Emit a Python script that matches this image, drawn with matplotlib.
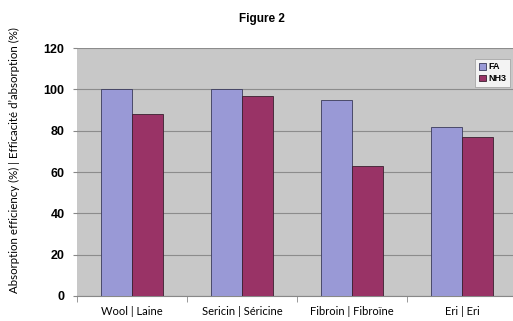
import numpy as np
import matplotlib.pyplot as plt

# Absorption efficiency by fibre, FA vs NH3
categories = ["Wool | Laine", "Sericin | Séricine", "Fibroin | Fibroïne", "Eri | Eri"]
fa_values = [100, 100, 95, 82]
nh3_values = [88, 97, 63, 77]
y_ticks = [0, 20, 40, 60, 80, 100, 120]

fig = plt.figure(figsize=(5.13, 3.21), dpi=100)
ax = fig.add_axes([0.150, 0.078, 0.858, 0.772])
ax.set_facecolor("#c8c8c8")

x = np.arange(len(categories))
w = 0.285
ax.bar(x - w / 2, fa_values, w, color="#9999d6", edgecolor="#3a3a5a", linewidth=0.6, label="FA", zorder=3)
ax.bar(x + w / 2, nh3_values, w, color="#993366", edgecolor="#3a2030", linewidth=0.6, label="NH3", zorder=3)

ax.set_xlim(-0.5, len(categories) - 0.5)
ax.set_ylim(0, 120)
ax.set_yticks(y_ticks)
ax.set_yticklabels([str(t) for t in y_ticks], fontweight="bold", fontsize=9, family="Liberation Sans")
ax.yaxis.grid(True, color="#8c8c8c", linewidth=0.8, zorder=0)
ax.tick_params(axis="y", length=3, color="#888888", pad=6)

# category labels centred, tick marks between groups
ax.set_xticks(x)
ax.set_xticklabels(categories, fontsize=8, family="Lato")
ax.set_xticks(np.arange(len(categories) + 1) - 0.5, minor=True)
ax.tick_params(axis="x", which="major", length=0, pad=7)
ax.tick_params(axis="x", which="minor", length=4, color="#888888")

for side in ["top", "right", "left"]:
    ax.spines[side].set_visible(False)
ax.spines["bottom"].set_color("#888888")

ax.set_ylabel("Absorption efficiency (%) | Efficacité d’absorption (%)", fontsize=8.3, family="Lato", labelpad=4)
ax.yaxis.set_label_coords(-0.13, 0.55)

fig.text(0.51, 0.94, "Figure 2", ha="center", va="center", fontsize=8.5, fontweight="bold", family="Liberation Sans")

leg = ax.legend(loc="upper right", bbox_to_anchor=(0.995, 0.975), frameon=True, fancybox=False,
                handlelength=0.8, handleheight=0.8, handletextpad=0.3, borderpad=0.4, labelspacing=0.3,
                prop={"family": "Liberation Sans", "weight": "bold", "size": 6.5})
leg.get_frame().set_edgecolor("#999999")
leg.get_frame().set_linewidth(0.6)

fig.savefig("out.png", dpi=100)
